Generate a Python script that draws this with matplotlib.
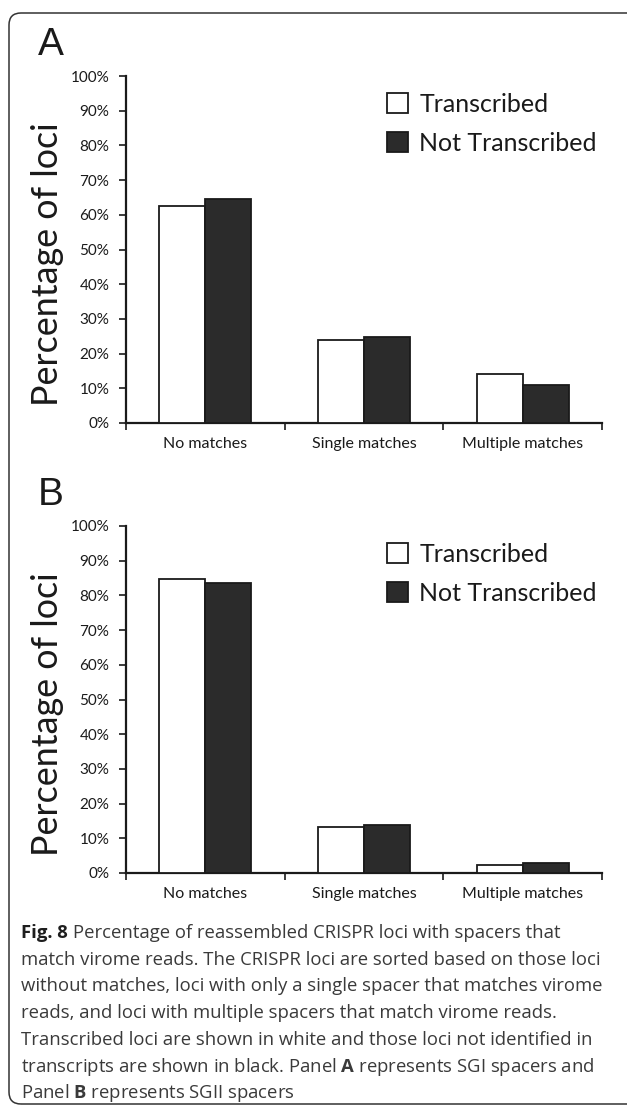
import matplotlib
matplotlib.use("Agg")
import matplotlib.pyplot as plt
from matplotlib.patches import FancyBboxPatch
from matplotlib.transforms import IdentityTransform
import numpy as np

# ---------------- data ----------------
categories = ["No matches", "Single matches", "Multiple matches"]
series_names = ["Transcribed", "Not Transcribed"]
panel_a_transcribed = [62.4, 23.8, 14.0]
panel_a_not_transcribed = [64.6, 24.8, 10.9]
panel_b_transcribed = [84.6, 13.3, 2.2]
panel_b_not_transcribed = [83.6, 13.9, 2.8]
yticks = list(range(0, 101, 10))
ytick_labels = [f"{v}%" for v in yticks]
panel_letters = ["A", "B"]
caption_head = "Fig. 8"
caption_lines = [
    "Percentage of reassembled CRISPR loci with spacers that",
    "match virome reads. The CRISPR loci are sorted based on those loci",
    "without matches, loci with only a single spacer that matches virome",
    "reads, and loci with multiple spacers that match virome reads.",
    "Transcribed loci are shown in white and those loci not identified in",
    r"transcripts are shown in black. Panel $\mathbf{A}$ represents SGI spacers and",
    r"Panel $\mathbf{B}$ represents SGII spacers",
]

# ---------------- style ----------------
plt.rcParams["font.family"] = ["Lato", "DejaVu Sans"]
plt.rcParams["mathtext.fontset"] = "custom"
plt.rcParams["mathtext.rm"] = "Open Sans"
plt.rcParams["mathtext.bf"] = "Open Sans:bold"

W, H = 627, 1109
fig = plt.figure(figsize=(W / 100, H / 100), dpi=100)
fig.patch.set_facecolor("white")

INK = "#1a1a1a"
DARK = "#2b2b2b"


def px_rect(left, top, right, bottom):
    return [left / W, 1 - bottom / H, (right - left) / W, (bottom - top) / H]


def draw_panel(rect, trans, not_trans, letter, letter_xy):
    ax = fig.add_axes(rect)
    x = np.arange(len(categories))
    w = 0.29
    b1 = ax.bar(x - w / 2, trans, w, color="white", edgecolor=INK,
                linewidth=1.3, label=series_names[0], zorder=3)
    b2 = ax.bar(x + w / 2, not_trans, w, color=DARK, edgecolor=INK,
                linewidth=1.3, label=series_names[1], zorder=3)
    ax.set_xlim(-0.5, len(categories) - 0.5)
    ax.set_ylim(0, 100)
    for s in ["top", "right"]:
        ax.spines[s].set_visible(False)
    for s in ["left", "bottom"]:
        ax.spines[s].set_linewidth(1.6)
        ax.spines[s].set_color(INK)
    ax.set_yticks(yticks)
    ax.set_yticklabels(ytick_labels)
    ax.set_xticks(np.arange(len(categories) + 1) - 0.5)
    ax.set_xticklabels([])
    ax.set_xticks(x, minor=True)
    ax.set_xticklabels(categories, minor=True)
    ax.tick_params(axis="x", which="minor", length=0, pad=10,
                   labelsize=11.5, labelcolor=INK)
    ax.tick_params(axis="x", which="major", length=5, width=1.2,
                   color=INK, direction="out")
    ax.tick_params(axis="y", length=5, width=1.2, color=INK, pad=7,
                   labelsize=11, labelcolor=INK)
    ax.set_ylabel("Percentage of loci", fontsize=25.8, color=INK, va="center")
    ax.yaxis.set_label_coords((48 - 126) / 476, 0.457)
    ax.legend(handles=[b1, b2], labels=series_names, loc="upper left",
              bbox_to_anchor=(0.548, 0.952), frameon=False, fontsize=18,
              handlelength=0.85, handleheight=0.85, handletextpad=0.45,
              labelspacing=0.64, borderpad=0, borderaxespad=0,
              labelcolor=INK)
    fig.text(letter_xy[0] / W, 1 - letter_xy[1] / H, letter, fontsize=28,
             family="Liberation Sans", ha="center", va="center", color=INK)
    return ax


draw_panel(px_rect(126, 76, 602, 423), panel_a_transcribed,
           panel_a_not_transcribed, panel_letters[0], (51, 45))
draw_panel(px_rect(126, 526, 602, 873), panel_b_transcribed,
           panel_b_not_transcribed, panel_letters[1], (51, 495))

# caption
CAP = "#3a3a3a"
head = fig.text(21 / W, 1 - 938 / H, caption_head, fontsize=13.3,
                family="Open Sans", fontweight="bold", color="#1e1e1e",
                ha="left", va="baseline")
fig.canvas.draw()
head_end = head.get_window_extent().x1
for i, line in enumerate(caption_lines):
    x0 = (head_end + 5) if i == 0 else 21
    fig.text(x0 / W, 1 - (938 + i * 26.7) / H, line, fontsize=13.3,
             family="Open Sans", color=CAP, ha="left", va="baseline")

# rounded border
border = FancyBboxPatch((9, H - 1104), 650, 1091,
                        boxstyle="round,pad=0,rounding_size=12",
                        transform=IdentityTransform(), fill=False,
                        linewidth=1.1, edgecolor="#333333")
fig.add_artist(border)

fig.savefig("out.png", dpi=100, facecolor="white")
